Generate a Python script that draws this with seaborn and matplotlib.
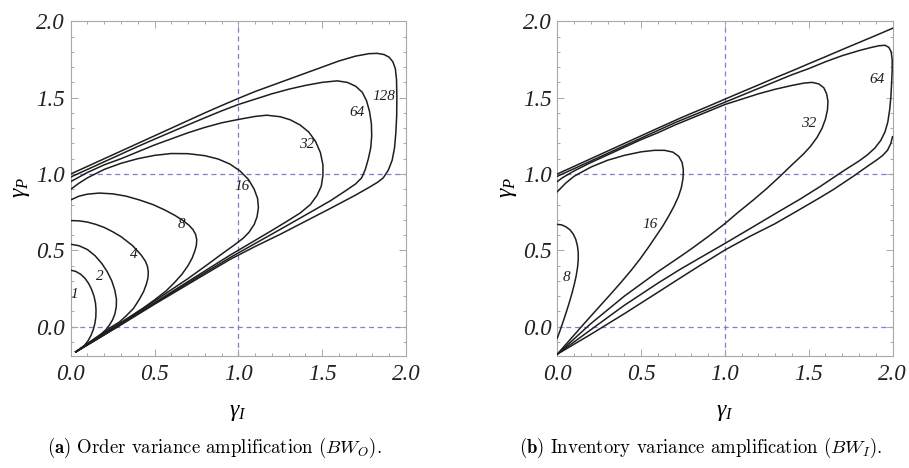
import matplotlib
matplotlib.use("Agg")
import matplotlib.pyplot as plt
from matplotlib.ticker import MultipleLocator, FormatStrFormatter
import pandas as pd
import seaborn as sns

# ---- contour traces, (gamma_I, gamma_P) pairs -------------------------------
# (a) order variance amplification BW_O
bwo_1 = [(0.0, 0.37), (0.03, 0.362), (0.06, 0.343), (0.085, 0.317), (0.107, 0.283), (0.125, 0.243),
         (0.139, 0.2), (0.148, 0.155), (0.151, 0.11), (0.15, 0.065), (0.145, 0.025), (0.136, -0.015),
         (0.122, -0.055), (0.105, -0.09), (0.083, -0.122), (0.057, -0.148), (0.03, -0.165)]
bwo_2 = [(0.0, 0.54), (0.05, 0.53), (0.1, 0.505), (0.145, 0.465), (0.185, 0.415), (0.218, 0.36),
         (0.245, 0.3), (0.263, 0.24), (0.273, 0.18), (0.272, 0.13), (0.264, 0.085), (0.25, 0.045),
         (0.232, 0.012), (0.21, -0.02), (0.18, -0.05), (0.14, -0.085), (0.09, -0.122), (0.03, -0.165)]
bwo_4 = [(0.0, 0.695), (0.05, 0.693), (0.1, 0.685), (0.15, 0.67), (0.2, 0.65), (0.25, 0.622),
         (0.3, 0.59), (0.37, 0.53), (0.42, 0.47), (0.445, 0.43), (0.458, 0.395), (0.463, 0.36),
         (0.461, 0.32), (0.452, 0.28), (0.435, 0.23), (0.41, 0.18), (0.375, 0.12), (0.33, 0.07),
         (0.29, 0.03), (0.245, 0.0), (0.2, -0.035), (0.15, -0.072), (0.1, -0.11), (0.06, -0.14),
         (0.03, -0.165)]
bwo_8 = [(0.0, 0.83), (0.05, 0.855), (0.1, 0.868), (0.17, 0.875), (0.25, 0.87), (0.33, 0.855),
         (0.41, 0.83), (0.49, 0.8), (0.56, 0.765), (0.62, 0.73), (0.67, 0.695), (0.705, 0.665),
         (0.73, 0.635), (0.745, 0.605), (0.752, 0.57), (0.75, 0.535), (0.742, 0.5), (0.725, 0.45),
         (0.7, 0.4), (0.665, 0.345), (0.62, 0.29), (0.57, 0.235), (0.5, 0.175), (0.43, 0.12),
         (0.35, 0.063), (0.3, 0.028), (0.26, 0.0), (0.2, -0.043), (0.13, -0.093), (0.07, -0.137),
         (0.03, -0.165)]
bwo_16 = [(0.0, 0.9), (0.05, 0.94), (0.1, 0.975), (0.2, 1.03), (0.3, 1.07), (0.4, 1.1), (0.5, 1.122),
          (0.6, 1.134), (0.7, 1.133), (0.8, 1.12), (0.88, 1.098), (0.95, 1.065), (1.01, 1.02),
          (1.06, 0.965), (1.095, 0.9), (1.115, 0.84), (1.12, 0.78), (1.112, 0.72), (1.095, 0.67),
          (1.065, 0.62), (1.03, 0.58), (0.97, 0.53), (0.9, 0.475), (0.82, 0.41), (0.7, 0.315),
          (0.55, 0.205), (0.4, 0.095), (0.268, 0.0), (0.15, -0.083), (0.03, -0.165)]
bwo_32 = [(0.0, 0.95), (0.1, 1.01), (0.2, 1.06), (0.3, 1.1), (0.4, 1.145), (0.5, 1.19), (0.6, 1.23),
          (0.7, 1.27), (0.8, 1.305), (0.9, 1.335), (1.0, 1.357), (1.1, 1.377), (1.17, 1.385),
          (1.25, 1.375), (1.31, 1.355), (1.37, 1.32), (1.42, 1.275), (1.46, 1.215), (1.49, 1.14),
          (1.505, 1.06), (1.505, 0.99), (1.495, 0.92), (1.47, 0.86), (1.43, 0.8), (1.37, 0.745),
          (1.29, 0.69), (1.2, 0.63), (1.1, 0.565), (0.95, 0.468), (0.75, 0.33), (0.5, 0.157),
          (0.274, 0.0), (0.15, -0.085), (0.03, -0.165)]
bwo_64 = [(0.0, 0.98), (0.1, 1.03), (0.2, 1.08), (0.3, 1.13), (0.4, 1.18), (0.5, 1.228), (0.6, 1.275),
          (0.7, 1.322), (0.8, 1.368), (0.9, 1.413), (1.0, 1.455), (1.1, 1.49), (1.2, 1.525),
          (1.3, 1.555), (1.4, 1.58), (1.5, 1.6), (1.59, 1.61), (1.65, 1.6), (1.7, 1.575),
          (1.74, 1.535), (1.765, 1.48), (1.783, 1.41), (1.794, 1.33), (1.796, 1.25), (1.79, 1.17),
          (1.776, 1.1), (1.758, 1.03), (1.736, 0.975), (1.7, 0.935), (1.64, 0.89), (1.55, 0.825),
          (1.45, 0.762), (1.25, 0.637), (0.95, 0.452), (0.75, 0.32), (0.5, 0.152), (0.278, 0.0),
          (0.15, -0.086), (0.03, -0.165)]
bwo_128 = [(0.0, 1.0), (0.1, 1.05), (0.2, 1.1), (0.3, 1.15), (0.4, 1.2), (0.5, 1.25), (0.6, 1.3),
           (0.7, 1.35), (0.8, 1.4), (0.9, 1.448), (1.0, 1.495), (1.1, 1.54), (1.2, 1.58), (1.3, 1.62),
           (1.4, 1.66), (1.5, 1.7), (1.6, 1.74), (1.7, 1.772), (1.78, 1.788), (1.83, 1.79),
           (1.87, 1.782), (1.9, 1.765), (1.922, 1.735), (1.937, 1.69), (1.944, 1.62), (1.946, 1.5),
           (1.945, 1.38), (1.94, 1.27), (1.932, 1.17), (1.918, 1.09), (1.895, 1.025), (1.865, 0.975),
           (1.83, 0.945), (1.78, 0.912), (1.7, 0.862), (1.55, 0.775), (1.4, 0.69), (1.25, 0.605),
           (1.1, 0.525), (0.95, 0.44), (0.75, 0.31), (0.5, 0.147), (0.282, 0.0), (0.15, -0.087),
           (0.03, -0.165)]

# (b) inventory variance amplification BW_I
bwi_8 = [(0.0, 0.67), (0.025, 0.667), (0.05, 0.655), (0.075, 0.635), (0.095, 0.607), (0.11, 0.572),
         (0.12, 0.53), (0.125, 0.485), (0.125, 0.44), (0.121, 0.39), (0.113, 0.335), (0.102, 0.28),
         (0.088, 0.22), (0.072, 0.16), (0.055, 0.1), (0.037, 0.04), (0.018, -0.02), (0.0, -0.075)]
bwi_16 = [(0.0, 0.884), (0.05, 0.94), (0.1, 0.985), (0.2, 1.045), (0.3, 1.09), (0.4, 1.122),
          (0.5, 1.145), (0.58, 1.155), (0.64, 1.155), (0.69, 1.143), (0.725, 1.115), (0.745, 1.075),
          (0.752, 1.025), (0.75, 0.97), (0.74, 0.91), (0.722, 0.85), (0.697, 0.79), (0.665, 0.725),
          (0.63, 0.66), (0.59, 0.595), (0.545, 0.522), (0.495, 0.445), (0.44, 0.368), (0.38, 0.29),
          (0.31, 0.203), (0.24, 0.118), (0.16, 0.02), (0.08, -0.08), (0.0, -0.18)]
bwi_32 = [(0.0, 0.95), (0.03, 0.975), (0.1, 1.02), (0.2, 1.075), (0.3, 1.125), (0.4, 1.175),
          (0.5, 1.225), (0.6, 1.27), (0.7, 1.32), (0.8, 1.365), (0.9, 1.41), (1.0, 1.455),
          (1.1, 1.49), (1.2, 1.525), (1.3, 1.555), (1.4, 1.58), (1.47, 1.595), (1.52, 1.6),
          (1.56, 1.59), (1.59, 1.565), (1.607, 1.525), (1.615, 1.475), (1.612, 1.42), (1.6, 1.36),
          (1.58, 1.3), (1.55, 1.24), (1.51, 1.18), (1.468, 1.13), (1.4, 1.06), (1.329, 0.985),
          (1.25, 0.905), (1.17, 0.83), (1.08, 0.75), (1.0, 0.675), (0.9, 0.59), (0.8, 0.51),
          (0.732, 0.458), (0.6, 0.36), (0.5, 0.28), (0.4, 0.2), (0.3, 0.11), (0.2, 0.02),
          (0.1, -0.08), (0.0, -0.18)]
bwi_64 = [(0.0, 0.985), (0.1, 1.035), (0.2, 1.085), (0.3, 1.135), (0.4, 1.185), (0.5, 1.235),
          (0.6, 1.285), (0.7, 1.335), (0.8, 1.38), (0.9, 1.425), (1.0, 1.47), (1.1, 1.515),
          (1.2, 1.56), (1.3, 1.605), (1.4, 1.65), (1.5, 1.69), (1.6, 1.735), (1.7, 1.775),
          (1.8, 1.808), (1.87, 1.828), (1.92, 1.84), (1.955, 1.843), (1.978, 1.83), (1.992, 1.8),
          (1.998, 1.75), (1.998, 1.68), (1.995, 1.6), (1.99, 1.5), (1.983, 1.42), (1.972, 1.34),
          (1.955, 1.275), (1.93, 1.22), (1.895, 1.17), (1.85, 1.125), (1.8, 1.085), (1.7, 1.015),
          (1.567, 0.917), (1.448, 0.835), (1.3, 0.74), (1.17, 0.655), (1.0, 0.545), (0.85, 0.45),
          (0.732, 0.375), (0.6, 0.285), (0.4, 0.14), (0.2, -0.02), (0.0, -0.18)]
bwi_128 = [(0.0, 1.0), (0.1, 1.05), (0.2, 1.1), (0.3, 1.15), (0.4, 1.2), (0.5, 1.25), (0.6, 1.3),
           (0.732, 1.365), (0.8, 1.397), (0.9, 1.443), (1.0, 1.49), (1.1, 1.537), (1.2, 1.583),
           (1.3, 1.63), (1.4, 1.675), (1.5, 1.722), (1.6, 1.768), (1.7, 1.815), (1.8, 1.861),
           (1.9, 1.907), (2.0, 1.954)]
bwi_128_low = [(2.0, 1.244), (1.99, 1.2), (1.97, 1.155), (1.94, 1.12), (1.906, 1.092), (1.85, 1.05),
               (1.766, 0.985), (1.65, 0.9), (1.567, 0.845), (1.45, 0.77), (1.3, 0.675), (1.15, 0.592),
               (1.0, 0.502), (0.85, 0.4), (0.732, 0.318), (0.6, 0.225), (0.4, 0.085), (0.2, -0.05),
               (0.0, -0.18)]

# contour label text and where it sits
bwo_labels = [("1", 0.02, 0.21), ("2", 0.175, 0.327), ("4", 0.374, 0.47), ("8", 0.662, 0.666),
              ("16", 1.02, 0.917), ("32", 1.408, 1.19), ("64", 1.706, 1.40), ("128", 1.87, 1.51)]
bwi_labels = [("8", 0.056, 0.32), ("16", 0.553, 0.666), ("32", 1.498, 1.332), ("64", 1.906, 1.62)]

x_ticks = [0.0, 0.5, 1.0, 1.5, 2.0]
y_ticks = [0.0, 0.5, 1.0, 1.5, 2.0]

plt.rcParams["mathtext.fontset"] = "custom"
plt.rcParams["mathtext.it"] = "Liberation Serif:italic"
plt.rcParams["mathtext.rm"] = "Liberation Serif"
plt.rcParams["mathtext.bf"] = "Liberation Serif:bold"

W, H = 909, 468
fig = plt.figure(figsize=(W / 100, H / 100), dpi=100)
GUIDE = "#7f7fcc"


def frame(df, label_list, left_px):
    ax = fig.add_axes([left_px / W, (H - 356) / H, 335.2 / W, 334.7 / H])
    sns.lineplot(data=df, x="x", y="y", units="curve", estimator=None, sort=False,
                 color="#1e1e1e", linewidth=1.1, legend=False, ax=ax, zorder=3)
    ax.axvline(1.0, color=GUIDE, lw=0.9, ls=(0, (4, 3)), zorder=1)
    for yv in (0.0, 1.0):
        ax.axhline(yv, color=GUIDE, lw=0.9, ls=(0, (4, 3)), zorder=1)
    for txt, lx, ly in label_list:
        ax.text(lx, ly, txt, fontsize=11, family="Liberation Serif", style="italic",
                ha="center", va="center", color="#1e1e1e", zorder=4)
    ax.set_xlim(0, 2.0)
    ax.set_ylim(-0.192, 2.0)
    ax.set_xticks(x_ticks)
    ax.set_yticks(y_ticks)
    ax.xaxis.set_minor_locator(MultipleLocator(0.1))
    ax.yaxis.set_minor_locator(MultipleLocator(0.1))
    ax.xaxis.set_major_formatter(FormatStrFormatter("%.1f"))
    ax.yaxis.set_major_formatter(FormatStrFormatter("%.1f"))
    ax.tick_params(which="both", direction="in", top=True, right=True, color="#a8a8a8", width=0.7)
    ax.tick_params(which="major", length=5)
    ax.tick_params(which="minor", length=2.5)
    ax.tick_params(axis="x", which="major", pad=6)
    ax.tick_params(axis="y", which="major", pad=4)
    for lab in ax.get_xticklabels() + ax.get_yticklabels():
        lab.set_fontfamily("Liberation Serif")
        lab.set_fontstyle("italic")
        lab.set_fontsize(16.5)
        lab.set_color("#222222")
    for sp in ax.spines.values():
        sp.set_color("#a8a8a8")
        sp.set_linewidth(0.8)
    ax.set_xlabel("")
    ax.set_ylabel("")
    return ax


def traces(named):
    rows = []
    for name, pts in named.items():
        for px, py in pts:
            rows.append({"curve": name, "x": px, "y": py})
    return pd.DataFrame(rows)


df_o = traces({"1": bwo_1, "2": bwo_2, "4": bwo_4, "8": bwo_8, "16": bwo_16,
               "32": bwo_32, "64": bwo_64, "128": bwo_128})
df_i = traces({"8": bwi_8, "16": bwi_16, "32": bwi_32, "64": bwi_64,
               "128a": bwi_128, "128b": bwi_128_low})

ax1 = frame(df_o, bwo_labels, 70.7)
ax2 = frame(df_i, bwi_labels, 557.3)

for cx, cy in ((238, 411), (725, 411)):
    fig.text(cx / W, 1 - cy / H, r"$\gamma_I$", fontsize=17, ha="center", va="center")
for cx, cy in ((20, 188), (507, 188)):
    fig.text(cx / W, 1 - cy / H, r"$\gamma_P$", fontsize=17, ha="center", va="center", rotation=90)

fig.text(214 / W, 1 - 448 / H, r"$\mathbf{(a)}$ Order variance amplification ($BW_O$).",
         fontsize=13.5, family="cmr10", math_fontfamily="cm", ha="center", va="center")
fig.text(701 / W, 1 - 448 / H, r"$\mathbf{(b)}$ Inventory variance amplification ($BW_I$).",
         fontsize=13.5, family="cmr10", math_fontfamily="cm", ha="center", va="center")

fig.savefig("out.png", dpi=100)
